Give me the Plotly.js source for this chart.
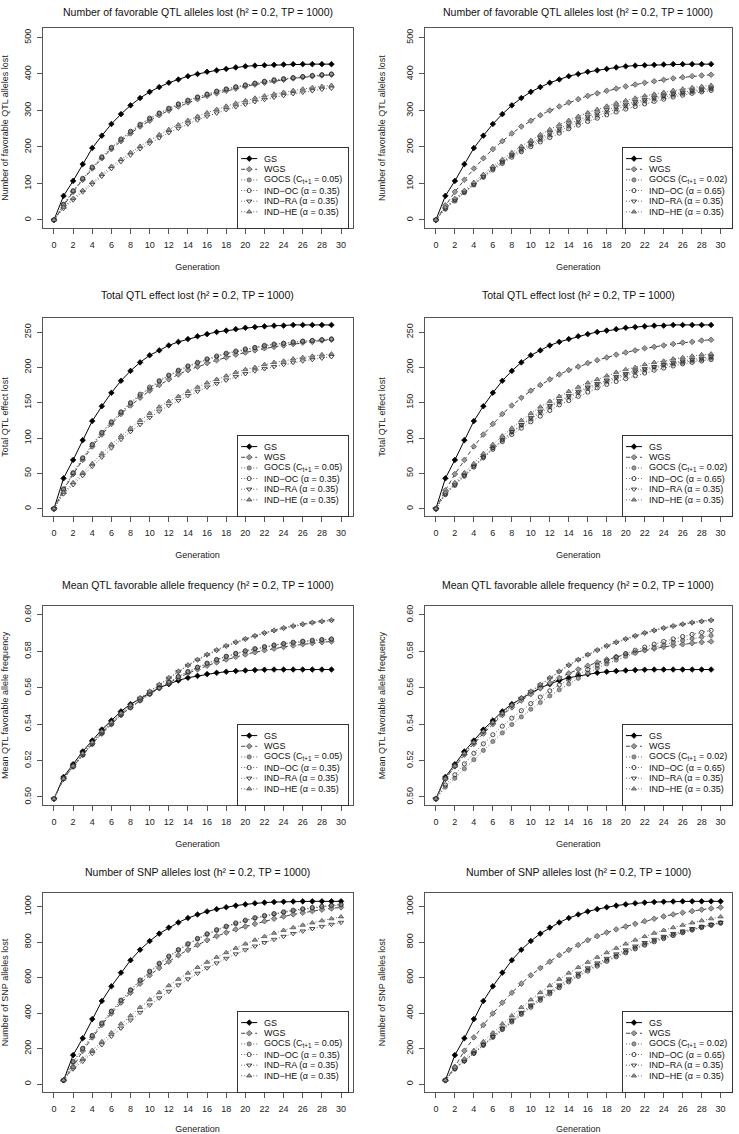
<!DOCTYPE html>
<html><head><meta charset="utf-8">
<script src="https://cdn.plot.ly/plotly-3.0.1.min.js"></script>
<style>html,body{margin:0;padding:0;background:#fff}</style>
</head><body><div id="chart" style="width:739px;height:1134px"></div>
<script>
// ---------------- data ----------------
const generations = [0,1,2,3,4,5,6,7,8,9,10,11,12,13,14,15,16,17,18,19,20,21,22,23,24,25,26,27,28,29];
const snpGenerations = [1,2,3,4,5,6,7,8,9,10,11,12,13,14,15,16,17,18,19,20,21,22,23,24,25,26,27,28,29,30];
const xTickValues = [0,2,4,6,8,10,12,14,16,18,20,22,24,26,28,30];

const seriesNames = ['GS','WGS','GOCS','IND−OC','IND−RA','IND−HE'];
const legendLabelsLeft  = ['GS','WGS','GOCS (C<sub>t+1</sub> = 0.05)','IND−OC (α = 0.35)','IND−RA (α = 0.35)','IND−HE (α = 0.35)'];
const legendLabelsRight = ['GS','WGS','GOCS (C<sub>t+1</sub> = 0.02)','IND−OC (α = 0.65)','IND−RA (α = 0.35)','IND−HE (α = 0.35)'];

const panelTitles = [
  'Number of favorable QTL alleles lost (h² = 0.2, TP = 1000)',
  'Total QTL effect lost (h² = 0.2, TP = 1000)',
  'Mean QTL favorable allele frequency (h² = 0.2, TP = 1000)',
  'Number of SNP alleles lost (h² = 0.2, TP = 1000)'
];
const yTitles = ['Number of favorable QTL alleles lost','Total QTL effect lost','Mean QTL favorable allele frequency','Number of SNP alleles lost'];
const xTitle = 'Generation';

// Number of favorable QTL alleles lost
const qtlLost_GS  = [0,66,107,153,197,231,263,290,314,334,351,364,376,385,394,400,406,410,414,418,421,423,424,425,426,427,427,427,427,427];
const qtlLost_WGS = [0,40,77,110,141,169,194,216,237,256,272,287,300,311,322,331,340,347,354,360,366,371,376,380,384,388,391,394,396,398];
const qtlLost_RA  = [0,32,55,77,98,120,141,160,178,195,210,225,239,251,263,274,284,293,302,310,317,324,330,336,341,346,350,354,358,361];
const qtlLost_HE  = [0,35,59,81,103,125,147,166,185,202,218,234,248,261,273,284,294,303,312,320,327,334,340,345,350,355,359,363,366,369];
const qtlLost_GOCS05 = [0,41,79,112,143,171,197,220,241,260,277,292,305,317,327,336,344,352,358,364,369,374,379,383,386,389,392,395,397,399];
const qtlLost_OC35   = [0,43,80,114,145,173,199,222,243,262,279,293,306,318,328,337,345,353,359,365,370,375,380,384,387,390,393,396,398,400];
const qtlLost_GOCS02 = [0,32,55,77,98,119,140,158,176,191,206,220,233,245,257,268,278,287,296,304,312,319,326,332,337,342,347,351,355,359];
const qtlLost_OC65   = [0,30,52,75,96,117,137,155,172,187,201,214,226,238,250,260,270,279,288,296,304,311,318,325,331,337,342,347,351,355];

// Total QTL effect lost
const effLost_GS  = [0,43,69,97,124,145,164,181,195,207,217,224,231,236,240,244,247,250,252,254,256,257,258,259,259,260,260,260,260,260];
const effLost_WGS = [0,26,49,69,88,105,120,134,146,157,167,175,183,190,196,201,206,210,214,218,221,224,227,229,231,233,235,236,238,239];
const effLost_RA  = [0,21,34,47,60,73,86,98,109,119,129,138,146,153,160,166,172,177,182,187,191,195,198,201,204,207,209,211,213,215];
const effLost_HE  = [0,23,37,51,64,78,91,103,114,125,135,144,152,159,166,172,178,183,188,193,197,200,204,207,209,212,214,216,218,219];
const effLost_GOCS05 = [0,27,50,71,90,107,122,136,149,160,170,180,188,195,201,206,211,215,219,222,225,228,230,232,234,235,237,238,239,240];
const effLost_OC35   = [0,28,51,72,91,108,123,137,150,162,172,181,189,196,202,207,212,216,220,223,226,228,231,233,234,236,237,238,239,240];
const effLost_GOCS02 = [0,21,35,48,61,74,86,97,108,118,127,136,144,151,158,164,170,175,180,185,189,193,196,200,203,205,207,209,211,213];
const effLost_OC65   = [0,20,33,46,59,72,84,95,105,114,123,131,139,147,153,159,165,171,176,180,184,188,192,196,199,202,205,207,209,211];

// Mean QTL favorable allele frequency
const freq_GS  = [0.499,0.511,0.518,0.525,0.531,0.537,0.542,0.547,0.551,0.554,0.557,0.560,0.562,0.564,0.5655,0.5665,0.5675,0.5682,0.5688,0.5692,0.5695,0.5697,0.5699,0.570,0.570,0.570,0.570,0.570,0.570,0.570];
const freq_WGS = [0.499,0.5100,0.5168,0.5232,0.5292,0.5348,0.5400,0.5450,0.5492,0.5530,0.5565,0.5597,0.5627,0.5654,0.5679,0.5701,0.5721,0.5739,0.5755,0.5770,0.5783,0.5795,0.5806,0.5815,0.5824,0.5832,0.5839,0.5845,0.5850,0.5854];
const freq_RA  = [0.499,0.5098,0.5168,0.5238,0.5298,0.5358,0.5408,0.5458,0.5502,0.5542,0.5578,0.5615,0.5652,0.5688,0.5722,0.5752,0.5780,0.5805,0.5828,0.5848,0.5866,0.5883,0.5899,0.5913,0.5926,0.5937,0.5947,0.5956,0.5963,0.5969];
const freq_HE  = [0.499,0.5100,0.5170,0.5240,0.5300,0.5360,0.5410,0.5460,0.5505,0.5545,0.5582,0.5619,0.5656,0.5692,0.5726,0.5756,0.5784,0.5809,0.5832,0.5852,0.5870,0.5887,0.5903,0.5917,0.5930,0.5941,0.5951,0.5960,0.5967,0.5973];
const freq_GOCS05 = [0.499,0.5100,0.5165,0.5230,0.5290,0.5350,0.5400,0.5450,0.5490,0.5530,0.5565,0.5598,0.5630,0.5660,0.5687,0.5711,0.5733,0.5753,0.5771,0.5787,0.5800,0.5812,0.5823,0.5832,0.5840,0.5847,0.5853,0.5858,0.5862,0.5865];
const freq_OC35   = [0.499,0.5102,0.5168,0.5232,0.5292,0.5352,0.5402,0.5452,0.5492,0.5532,0.5567,0.5600,0.5632,0.5662,0.5689,0.5713,0.5735,0.5755,0.5773,0.5789,0.5803,0.5815,0.5826,0.5835,0.5843,0.5850,0.5856,0.5861,0.5865,0.5868];
const freq_GOCS02 = [0.499,0.5055,0.5103,0.5155,0.5205,0.5256,0.5305,0.5352,0.5398,0.5440,0.5482,0.5519,0.5555,0.5589,0.5621,0.5652,0.5681,0.5707,0.5731,0.5752,0.5772,0.5790,0.5807,0.5822,0.5836,0.5849,0.5860,0.5870,0.5879,0.5887];
const freq_OC65   = [0.499,0.5066,0.5122,0.5182,0.5240,0.5292,0.5342,0.5389,0.5433,0.5474,0.5513,0.5549,0.5583,0.5616,0.5646,0.5674,0.5700,0.5724,0.5747,0.5768,0.5788,0.5806,0.5823,0.5839,0.5854,0.5868,0.5881,0.5893,0.5904,0.5915];

// Number of SNP alleles lost (generations 1..30)
const snpLost_GS  = [21,163,258,366,468,551,628,698,757,806,848,882,911,936,956,973,986,997,1006,1013,1019,1023,1026,1028,1029,1030,1030,1030,1030,1030];
const snpLost_WGS = [21,97,187,263,333,398,459,515,566,613,654,690,726,756,784,811,834,854,872,888,903,918,932,945,956,966,975,983,990,996];
const snpLost_RA  = [21,85,128,172,221,269,315,360,403,445,485,522,558,592,624,654,682,708,733,756,777,797,815,832,848,862,876,888,900,911];
const snpLost_HE  = [21,95,142,190,239,289,339,385,432,475,516,555,591,626,658,687,715,741,766,790,812,832,851,867,882,896,909,921,932,943];
const snpLost_GOCS05 = [21,122,198,271,341,408,470,528,582,632,677,717,754,787,817,843,866,886,904,920,934,946,957,967,976,984,991,998,1004,1009];
const snpLost_OC35   = [21,127,201,274,344,411,473,531,586,636,681,721,758,791,821,847,870,890,908,924,938,950,961,971,980,988,995,1002,1008,1013];
const snpLost_GOCS02 = [21,88,132,176,222,268,312,356,398,439,478,515,550,583,614,644,672,698,723,746,768,788,807,825,841,857,871,885,897,909];
const snpLost_OC65   = [21,85,130,173,218,263,307,350,393,433,472,508,543,576,607,637,665,692,717,740,762,783,802,820,837,853,868,882,895,907];

// ---------------- layout geometry ----------------
const W = 739, H = 1134;
const colBox = [[42.5, 352.5], [424.5, 732]];
const rowBox = [[28, 228], [318, 516], [606, 805], [893, 1092]];
const titleY = [12, 295, 585, 872];
const legendX = [[237.7, 347.7], [622.5, 732]];
const legendH = 80, legendW = 110;
const yRanges = [[-22, 526], [-10.3, 269.8], [0.4956, 0.6049], [-45, 1077]];
const yDticks = [100, 50, 0.02, 200];
const yFormats = ['', '', '.2f', ''];

const panels = [
  {row:0, col:0, x:generations, ys:[qtlLost_GS,qtlLost_WGS,qtlLost_GOCS05,qtlLost_OC35,qtlLost_RA,qtlLost_HE]},
  {row:0, col:1, x:generations, ys:[qtlLost_GS,qtlLost_WGS,qtlLost_GOCS02,qtlLost_OC65,qtlLost_RA,qtlLost_HE]},
  {row:1, col:0, x:generations, ys:[effLost_GS,effLost_WGS,effLost_GOCS05,effLost_OC35,effLost_RA,effLost_HE]},
  {row:1, col:1, x:generations, ys:[effLost_GS,effLost_WGS,effLost_GOCS02,effLost_OC65,effLost_RA,effLost_HE]},
  {row:2, col:0, x:generations, ys:[freq_GS,freq_WGS,freq_GOCS05,freq_OC35,freq_RA,freq_HE]},
  {row:2, col:1, x:generations, ys:[freq_GS,freq_WGS,freq_GOCS02,freq_OC65,freq_RA,freq_HE]},
  {row:3, col:0, x:snpGenerations, ys:[snpLost_GS,snpLost_WGS,snpLost_GOCS05,snpLost_OC35,snpLost_RA,snpLost_HE]},
  {row:3, col:1, x:snpGenerations, ys:[snpLost_GS,snpLost_WGS,snpLost_GOCS02,snpLost_OC65,snpLost_RA,snpLost_HE]}
];

const styles = [
  {line:{color:'#000', width:1, dash:'solid'}, marker:{symbol:'diamond', size:4.3, color:'#000', line:{color:'#000', width:0.7}}},
  {line:{color:'#444', width:1, dash:'4px,3px'}, marker:{symbol:'diamond', size:4.3, color:'#999', line:{color:'#444', width:0.7}}},
  {line:{color:'#666', width:1, dash:'1px,2px'}, marker:{symbol:'circle', size:4.2, color:'#999', line:{color:'#555', width:0.7}}},
  {line:{color:'#666', width:1, dash:'1px,2px'}, marker:{symbol:'circle-open', size:4.2, color:'#222', line:{color:'#222', width:0.8}}},
  {line:{color:'#666', width:1, dash:'1px,2px'}, marker:{symbol:'triangle-down-open', size:4.6, color:'#222', line:{color:'#222', width:0.8}}},
  {line:{color:'#666', width:1, dash:'1px,2px'}, marker:{symbol:'triangle-up', size:4.6, color:'#999', line:{color:'#444', width:0.7}}}
];

const FONT = 'Liberation Sans, Arial, Helvetica, sans-serif';
const AXC = '#555';
const traces = [];
const layout = {
  width: W, height: H, margin:{l:0, r:0, t:0, b:0},
  paper_bgcolor:'#fff', plot_bgcolor:'#fff', showlegend:false,
  font:{family:FONT, size:9, color:'#222'},
  annotations:[]
};

panels.forEach((p, i) => {
  const n = i + 1;
  const xa = n === 1 ? 'xaxis' : 'xaxis' + n;
  const ya = n === 1 ? 'yaxis' : 'yaxis' + n;
  const xr = n === 1 ? 'x' : 'x' + n;
  const yr = n === 1 ? 'y' : 'y' + n;
  const cb = colBox[p.col], rb = rowBox[p.row];
  layout[xa] = {
    domain:[cb[0]/W, cb[1]/W], anchor: yr, range:[-1.2, 31.2],
    tickmode:'array', tickvals: xTickValues,
    ticks:'outside', ticklen:5, tickwidth:1, tickcolor:AXC, ticklabelstandoff:3,
    showline:true, mirror:true, linecolor:AXC, linewidth:1,
    showgrid:false, zeroline:false, fixedrange:true,
    tickfont:{size:9, family:FONT, color:'#222'},
    title:{text:xTitle, font:{size:9, family:FONT, color:'#222'}, standoff:14}
  };
  layout[ya] = {
    domain:[1 - rb[1]/H, 1 - rb[0]/H], anchor: xr, range: yRanges[p.row],
    tick0:0, dtick: yDticks[p.row], tickformat: yFormats[p.row],
    ticks:'outside', ticklen:5, tickwidth:1, tickcolor:AXC, tickangle:-90, ticklabelstandoff:2,
    showline:true, mirror:true, linecolor:AXC, linewidth:1,
    showgrid:false, zeroline:false, fixedrange:true,
    tickfont:{size:9, family:FONT, color:'#222'},
    title:{text:yTitles[p.row], font:{size:9, family:FONT, color:'#222'}, standoff: p.col === 0 ? 13 : 17}
  };
  p.ys.forEach((ys, k) => {
    traces.push({
      type:'scatter', mode:'lines+markers', name: seriesNames[k],
      x: p.x, y: ys, xaxis: xr, yaxis: yr,
      line: styles[k].line, marker: styles[k].marker, hoverinfo:'skip'
    });
  });

  // legend panel (own axes, box drawn by axis lines)
  const ln = 9 + i;
  const lxa = 'xaxis' + ln, lya = 'yaxis' + ln;
  const lx = legendX[p.col];
  layout[lxa] = {domain:[lx[0]/W, lx[1]/W], anchor:'y'+ln, range:[0, legendW],
    showline:true, mirror:true, linecolor:'#333', linewidth:1, ticks:'', showticklabels:false,
    showgrid:false, zeroline:false, fixedrange:true};
  layout[lya] = {domain:[1 - rb[1]/H, 1 - (rb[1]-legendH)/H], anchor:'x'+ln, range:[legendH, 0],
    showline:true, mirror:true, linecolor:'#333', linewidth:1, ticks:'', showticklabels:false,
    showgrid:false, zeroline:false, fixedrange:true};
  const labels = p.col === 0 ? legendLabelsLeft : legendLabelsRight;
  labels.forEach((lab, k) => {
    const yy = 10.6 + 10.65 * k;
    traces.push({
      type:'scatter', mode:'lines+markers', x:[3.5, 11.5, 19.5], y:[yy, yy, yy],
      xaxis:'x'+ln, yaxis:'y'+ln, hoverinfo:'skip',
      line: styles[k].line,
      marker: Object.assign({}, styles[k].marker, {opacity:[0,1,0]})
    });
    layout.annotations.push({xref:'x'+ln, yref:'y'+ln, x:24.5, y:yy, xanchor:'left', yanchor:'middle',
      text: lab, showarrow:false, font:{size:9, family:FONT, color:'#111'}});
  });
});

// panel titles
for (let r = 0; r < 4; r++) {
  for (let c = 0; c < 2; c++) {
    layout.annotations.push({xref:'paper', yref:'paper',
      x:(colBox[c][0] + colBox[c][1]) / 2 / W, y: 1 - titleY[r]/H,
      xanchor:'center', yanchor:'middle', showarrow:false,
      text: panelTitles[r], font:{size:10.5, family:FONT, color:'#111'}});
  }
}

Plotly.newPlot('chart', traces, layout, {staticPlot:true, displayModeBar:false});
</script>
</body></html>
